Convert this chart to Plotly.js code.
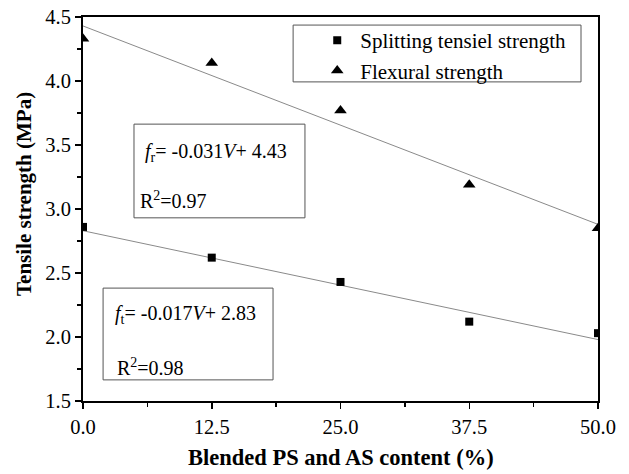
<!DOCTYPE html>
<html>
<head>
<meta charset="utf-8">
<script src="https://cdn.plot.ly/plotly-3.0.1.min.js"></script>
<style>
  html, body { margin: 0; padding: 0; background: #fff; }
  #chart { width: 629px; height: 474px; }
</style>
</head>
<body>
<div id="chart"></div>
<script>
// Blended PS and AS content (%)
const content = [0, 12.5, 25, 37.5, 50];
// Measured strengths (MPa)
const splittingStrength = [2.86, 2.62, 2.43, 2.12, 2.03];
const flexuralStrength = [4.33, 4.14, 3.77, 3.19, 2.85];
// Linear fits: f = slope * V + intercept
const flexSlope = -0.031, flexIntercept = 4.43, flexR2 = 0.97;
const splitSlope = -0.017, splitIntercept = 2.83, splitR2 = 0.98;
const fitRange = [0, 50];

const xTitle = 'Blended PS and AS content (%)';
const yTitle = 'Tensile strength (MPa)';

const serif = '"Liberation Serif", "Times New Roman", Times, serif';

const fitLine = (m, b) => ({
  x: fitRange,
  y: fitRange.map(v => m * v + b),
  mode: 'lines',
  line: { color: '#8a8a8a', width: 1 },
  showlegend: false,
  hoverinfo: 'skip'
});

const traces = [
  fitLine(flexSlope, flexIntercept),
  fitLine(splitSlope, splitIntercept),
  {
    x: content, y: splittingStrength,
    mode: 'markers', name: 'Splitting tensiel strength',
    marker: { symbol: 'square', size: 8, color: '#000' }
  },
  {
    x: content, y: flexuralStrength,
    mode: 'markers', name: 'Flexural strength',
    marker: { symbol: 'triangle-up', size: 11, color: '#000' }
  }
];

const axisCommon = {
  showline: true, mirror: true, linecolor: '#000', linewidth: 2,
  ticks: 'outside', ticklen: 6, tickwidth: 1.5, tickcolor: '#000',
  showgrid: false, zeroline: false,
  tickfont: { family: serif, size: 20.5, color: '#000' }
};

const fmt = v => v.toFixed(2);
const boxLine = { color: '#555', width: 1 };
const txt = (size) => ({ family: serif, size: size, color: '#000' });

const layout = {
  width: 629, height: 474,
  margin: { l: 83, r: 31, t: 17, b: 73 },
  paper_bgcolor: '#fff', plot_bgcolor: '#fff',
  font: { family: serif, color: '#000' },
  xaxis: Object.assign({}, axisCommon, {
    range: [0, 50], tickvals: [0, 12.5, 25, 37.5, 50], tickformat: '.1f',
    minor: { dtick: 6.25, tick0: 0, ticks: 'outside', ticklen: 4, tickwidth: 1.5, tickcolor: '#000' }
  }),
  yaxis: Object.assign({}, axisCommon, {
    range: [1.5, 4.5], dtick: 0.5, tick0: 1.5, tickformat: '.1f',
    minor: { dtick: 0.25, tick0: 1.5, ticks: 'outside', ticklen: 4, tickwidth: 1.5, tickcolor: '#000' }
  }),
  legend: {
    x: 0.449, y: 0.992, xanchor: 'left', yanchor: 'top',
    borderwidth: 0, bgcolor: 'rgba(255,255,255,0)',
    font: txt(21),
    itemwidth: 36, tracegroupgap: 0
  },
  shapes: [
    // legend frame
    { type: 'rect', xref: 'paper', yref: 'paper', x0: 0.408, x1: 0.967, y0: 0.831, y1: 0.979,
      line: boxLine, fillcolor: '#fff', layer: 'below' },
    // equation frames
    { type: 'rect', xref: 'paper', yref: 'paper', x0: 0.099, x1: 0.431, y0: 0.477, y1: 0.721,
      line: boxLine, fillcolor: 'rgba(255,255,255,0)' },
    { type: 'rect', xref: 'paper', yref: 'paper', x0: 0.039, x1: 0.369, y0: 0.055, y1: 0.294,
      line: boxLine, fillcolor: 'rgba(255,255,255,0)' }
  ],
  annotations: [
    // axis titles
    { xref: 'paper', yref: 'paper', x: 0.5, y: -0.146, xanchor: 'center', yanchor: 'middle', showarrow: false,
      text: '<b>' + xTitle + '</b>', font: txt(22.5) },
    { xref: 'paper', yref: 'paper', x: -0.1146, y: 0.539, xanchor: 'center', yanchor: 'middle', showarrow: false,
      textangle: -90, text: '<b>' + yTitle + '</b>', font: txt(21) },
    // regression equations
    { xref: 'paper', yref: 'paper', x: 0.117, y: 0.648, xanchor: 'left', yanchor: 'middle', showarrow: false,
      text: '<i>f</i><sub>r</sub>= ' + flexSlope.toFixed(3) + '<i>V</i>+ ' + fmt(flexIntercept),
      font: txt(20) },
    { xref: 'paper', yref: 'paper', x: 0.107, y: 0.523, xanchor: 'left', yanchor: 'middle', showarrow: false,
      text: 'R<sup>2</sup>=' + fmt(flexR2), font: txt(20) },
    { xref: 'paper', yref: 'paper', x: 0.058, y: 0.224, xanchor: 'left', yanchor: 'middle', showarrow: false,
      text: '<i>f</i><sub>t</sub>= ' + splitSlope.toFixed(3) + '<i>V</i>+ ' + fmt(splitIntercept),
      font: txt(20) },
    { xref: 'paper', yref: 'paper', x: 0.062, y: 0.089, xanchor: 'left', yanchor: 'middle', showarrow: false,
      text: 'R<sup>2</sup>=' + fmt(splitR2), font: txt(20) }
  ]
};

Plotly.newPlot('chart', traces, layout, { displayModeBar: false, staticPlot: true });
</script>
</body>
</html>
